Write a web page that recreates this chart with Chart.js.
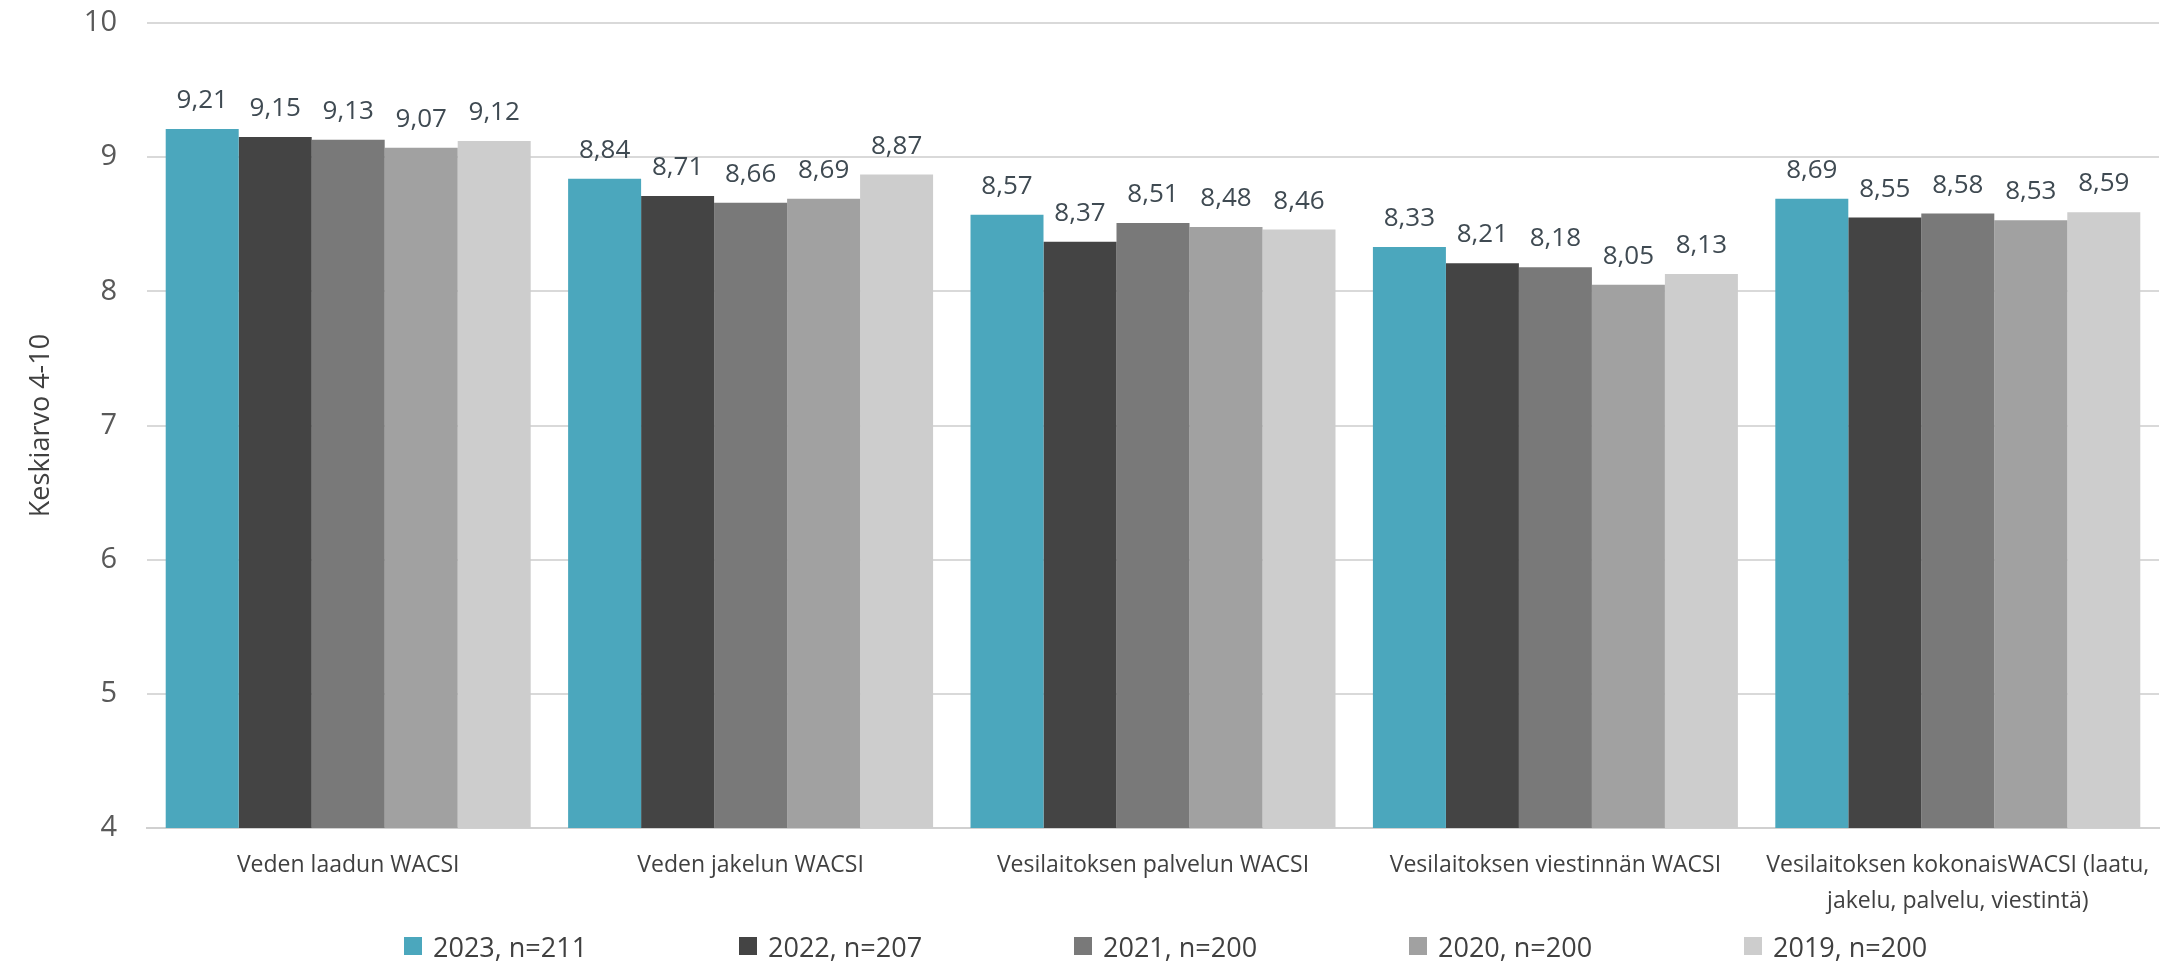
<!DOCTYPE html>
<html lang="fi">
<head>
<meta charset="utf-8">
<title>WACSI keskiarvot</title>
<script src="https://cdn.jsdelivr.net/npm/chart.js@4/dist/chart.umd.min.js"></script>
<style>
    html, body { margin: 0; padding: 0; background: #fff; }
    #wrap { position: relative; width: 2172px; height: 963px; }
    #legend {
        position: absolute; left: 404px; top: 928px; width: 1768px; height: 36px;
        display: flex; font-family: "Open Sans", sans-serif; font-size: 27px; color: #404040;
    }
    #legend .item { width: 335px; flex: 0 0 335px; display: flex; align-items: center; }
    #legend .box { width: 18px; height: 18px; margin-right: 11px; }
</style>
</head>
<body>
<div id="wrap">
    <canvas id="chart" width="2172" height="963"></canvas>
    <div id="legend"></div>
</div>
<script>
/* ================= DATA ================= */
const categories = [
    "Veden laadun WACSI",
    "Veden jakelun WACSI",
    "Vesilaitoksen palvelun WACSI",
    "Vesilaitoksen viestinnän WACSI",
    ["Vesilaitoksen kokonaisWACSI (laatu,", "jakelu, palvelu, viestintä)"]
];
const seriesNames = ["2023, n=211", "2022, n=207", "2021, n=200", "2020, n=200", "2019, n=200"];
const values2023 = [9.21, 8.84, 8.57, 8.33, 8.69];
const values2022 = [9.15, 8.71, 8.37, 8.21, 8.55];
const values2021 = [9.13, 8.66, 8.51, 8.18, 8.58];
const values2020 = [9.07, 8.69, 8.48, 8.05, 8.53];
const values2019 = [9.12, 8.87, 8.46, 8.13, 8.59];
const colors = ["#4ba7bd", "#444444", "#797979", "#a1a1a1", "#cdcdcd"];
const yMin = 4, yMax = 10;
const axisTitle = "Keskiarvo 4-10";

const FONT = "'Open Sans', sans-serif";

/* ================= VALUE LABELS ================= */
const valueLabels = {
    id: "valueLabels",
    afterDatasetsDraw(chart) {
        const ctx = chart.ctx;
        ctx.save();
        ctx.font = "26px " + FONT;
        ctx.fillStyle = "#3f4a52";
        ctx.textAlign = "center";
        ctx.textBaseline = "alphabetic";
        chart.data.datasets.forEach((ds, i) => {
            chart.getDatasetMeta(i).data.forEach((bar, j) => {
                const txt = ds.data[j].toFixed(2).replace(".", ",");
                ctx.fillText(txt, bar.x, bar.y - 21);
            });
        });
        ctx.restore();
    }
};

/* ================= CHART ================= */
const allValues = [values2023, values2022, values2021, values2020, values2019];

const chart = new Chart(document.getElementById("chart"), {
    type: "bar",
    data: {
        labels: categories,
        datasets: allValues.map((vals, i) => ({
            label: seriesNames[i],
            data: vals,
            backgroundColor: colors[i],
            borderWidth: 0,
            categoryPercentage: 0.907,
            barPercentage: 1
        }))
    },
    options: {
        responsive: false,
        animation: false,
        devicePixelRatio: 1,
        layout: { padding: { top: 0, right: 13, bottom: 0, left: 0 } },
        plugins: {
            legend: { display: false },
            tooltip: { enabled: false }
        },
        scales: {
            x: {
                grid: { display: false },
                border: { color: "#d0d0d0", width: 2 },
                ticks: {
                    color: "#404040",
                    font: { family: FONT, size: 23, lineHeight: 1.55 },
                    padding: 12,
                    maxRotation: 0,
                    autoSkip: false
                },
                afterFit(scale) { scale.height = 135; }
            },
            y: {
                min: yMin,
                max: yMax,
                grid: { color: "#d9d9d9", lineWidth: 2, drawTicks: false },
                border: { display: false },
                ticks: {
                    stepSize: 1,
                    color: "#595959",
                    font: { family: FONT, size: 29 },
                    padding: 30
                },
                title: {
                    display: true,
                    text: axisTitle,
                    color: "#404040",
                    font: { family: FONT, size: 27 },
                    padding: { top: 25, bottom: 0 }
                },
                afterFit(scale) {
                    scale.width = 147;
                    // plot top sits on the "10" gridline at ~23px
                    scale.paddingTop = 23;
                }
            }
        }
    },
    plugins: [valueLabels]
});

/* ================= LEGEND ================= */
const legend = document.getElementById("legend");
chart.data.datasets.forEach(ds => {
    const item = document.createElement("div");
    item.className = "item";
    item.innerHTML = `<span class="box" style="background:${ds.backgroundColor}"></span><span>${ds.label}</span>`;
    legend.appendChild(item);
});
</script>
</body>
</html>
